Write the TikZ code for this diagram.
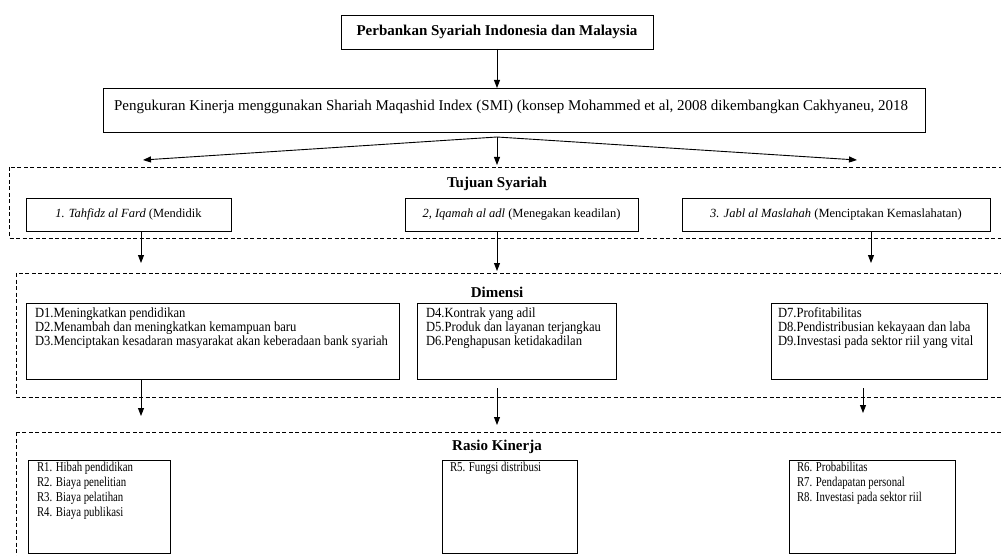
\documentclass[tikz,border=0pt]{standalone}
\usepackage{fontspec}
\setmainfont{Liberation Serif}
\newfontfamily\sempit[FakeStretch=0.9]{Liberation Serif}
\newfontfamily\sempitr[FakeStretch=0.8]{Liberation Serif}
\usetikzlibrary{arrows.meta}

\newcommand{\isi}[3]{\parbox[c][#2][t]{#1}{\raggedright #3}}

\begin{document}
\begin{tikzpicture}[x=1pt, y=-1pt,
  kotak/.style={draw, line width=0.9pt, outer sep=0pt},
  tujuan/.style={kotak, minimum height=33pt, inner sep=0pt, font=\fontsize{12.5}{15}\selectfont},
  daftard/.style={kotak, anchor=north west, inner xsep=9pt, inner ysep=4.5pt, font=\sempit\fontsize{14}{14}\selectfont},
  daftarr/.style={kotak, anchor=north west, inner xsep=9pt, inner ysep=2.5pt, font=\sempitr\fontsize{13.5}{15}\selectfont},
  subjudul/.style={font=\bfseries\fontsize{15}{18}\selectfont},
  bingkai/.style={draw, line width=0.8pt, dash pattern=on 4pt off 2.5pt},
  panah/.style={-{Triangle[length=8pt,width=6pt]}, line width=0.9pt}]
\clip (0,0) rectangle (1001,556);

% puncak
\node[kotak, minimum width=312pt, minimum height=34pt, font=\bfseries\fontsize{15}{18}\selectfont] (judul) at (497,32) {Perbankan Syariah Indonesia dan Malaysia};
\node[kotak, anchor=north west, inner xsep=11pt, inner ysep=12pt, font=\fontsize{15}{18}\selectfont] (smi) at (103,88) {\isi{800pt}{20pt}{Pengukuran Kinerja menggunakan Shariah Maqashid Index (SMI) (konsep Mohammed et al, 2008 dikembangkan Cakhyaneu, 2018}};

% bingkai putus-putus
\draw[bingkai] (9,167) rectangle (1010,238);
\draw[bingkai] (16,273) rectangle (1010,397);
\draw[bingkai] (16,432) rectangle (1010,600);

\node[subjudul] (lbltujuan) at (497,184) {Tujuan Syariah};
\node[subjudul] (lbldimensi) at (497,292) {Dimensi};
\node[subjudul] (lblrasio) at (497,447) {Rasio Kinerja};

% tujuan syariah
\node[tujuan, minimum width=205pt] (ta) at (128.5,214.5) {\textit{1. Tahfidz al Fard} (Mendidik};
\node[tujuan, minimum width=233pt] (tb) at (521.5,214.5) {\textit{2, Iqamah al adl} (Menegakan keadilan)};
\node[tujuan, minimum width=308pt] (tc) at (836,214.5) {\textit{3. Jabl al Maslahah} (Menciptakan Kemaslahatan)};

% dimensi
\node[daftard] (da) at (26,303) {\isi{355pt}{67pt}{D1.Meningkatkan pendidikan\\D2.Menambah dan meningkatkan kemampuan baru\\D3.Menciptakan kesadaran masyarakat akan keberadaan bank syariah}};
\node[daftard] (db) at (417,303) {\isi{181pt}{67pt}{D4.Kontrak yang adil\\D5.Produk dan layanan terjangkau\\D6.Penghapusan ketidakadilan}};
\node[daftard, inner xsep=7pt] (dc) at (771,303) {\isi{202pt}{67pt}{D7.Profitabilitas\\D8.Pendistribusian kekayaan dan laba\\D9.Investasi pada sektor riil yang vital}};

% rasio kinerja
\node[daftarr] (ra) at (28,460) {\isi{124pt}{88pt}{R1. Hibah pendidikan\\R2. Biaya penelitian\\R3. Biaya pelatihan\\R4. Biaya publikasi}};
\node[daftarr, inner xsep=8pt] (rb) at (442,460) {\isi{119pt}{88pt}{R5. Fungsi distribusi}};
\node[daftarr, inner xsep=8pt] (rc) at (789,460) {\isi{150pt}{88pt}{R6. Probabilitas\\R7. Pendapatan personal\\R8. Investasi pada sektor riil}};

% panah
\draw[panah] (judul.south) -- (judul.south |- smi.north);
\coordinate (cabang) at (497,137);
\coordinate (kiri) at (143,160);
\coordinate (tengah) at (497,165);
\coordinate (kanan) at (857,160);
\draw[panah] (cabang) -- (kiri);
\draw[panah] (cabang) -- (tengah);
\draw[panah] (cabang) -- (kanan);

\coordinate (ta1) at (141,263);
\coordinate (tb1) at (497,271);
\coordinate (tc1) at (871,263);
\draw[panah] (ta.south -| ta1) -- (ta1);
\draw[panah] (tb.south -| tb1) -- (tb1);
\draw[panah] (tc.south -| tc1) -- (tc1);

\coordinate (da1) at (141,416);
\coordinate (db0) at (497,388);
\coordinate (db1) at (497,425);
\coordinate (dc0) at (863,388);
\coordinate (dc1) at (863,413);
\draw[panah] (da.south -| da1) -- (da1);
\draw[panah] (db0) -- (db1);
\draw[panah] (dc0) -- (dc1);
\end{tikzpicture}
\end{document}
